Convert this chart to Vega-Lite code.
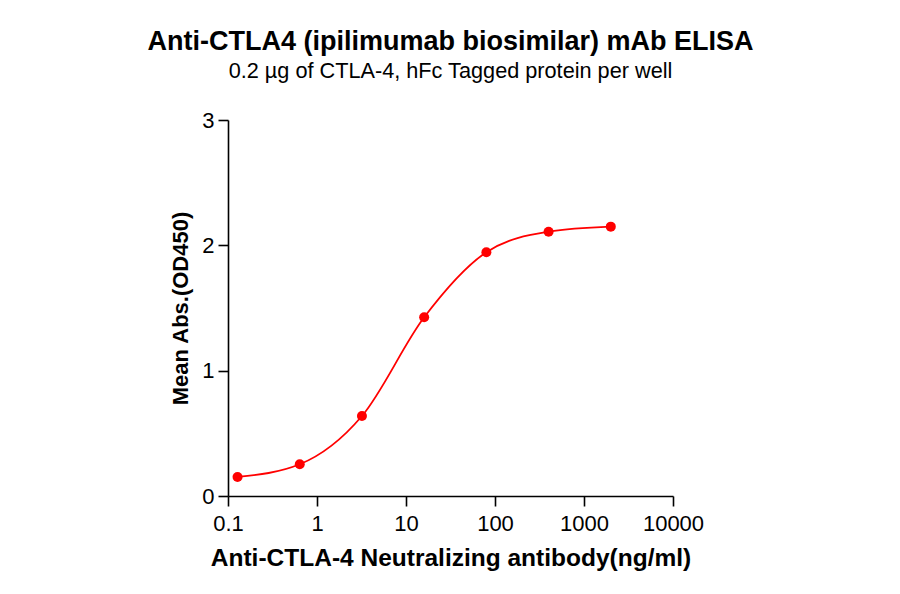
{
  "$schema": "https://vega.github.io/schema/vega-lite/v6.json",
  "autosize": "none",
  "width": 445,
  "height": 376,
  "padding": {"left": 228, "top": 120, "right": 227, "bottom": 98},
  "background": "white",
  "config": {
    "view": {"stroke": null},
    "font": "Liberation Sans",
    "axis": {
      "domainColor": "black", "domainWidth": 1.6, "tickColor": "black", "tickWidth": 1.6,
      "tickSize": 10, "labelFontSize": 22, "labelColor": "black", "grid": false, "labelFlush": false,
      "titleFontWeight": "bold", "titleColor": "black"
    }
  },
  "title": {
    "text": "Anti-CTLA4 (ipilimumab biosimilar) mAb ELISA",
    "subtitle": "0.2 µg of CTLA-4, hFc Tagged protein per well",
    "fontSize": 27, "fontWeight": "bold", "color": "black",
    "subtitleFontSize": 21.7, "subtitleColor": "black", "subtitlePadding": 5,
    "anchor": "middle", "offset": 25
  },
  "data": {"values": [
    {"conc": 0.128, "od": 0.152},
    {"conc": 0.64, "od": 0.253},
    {"conc": 3.2, "od": 0.638},
    {"conc": 16, "od": 1.426},
    {"conc": 80, "od": 1.945},
    {"conc": 400, "od": 2.109},
    {"conc": 2000, "od": 2.149}
  ]},
  "encoding": {
    "x": {"field": "conc", "type": "quantitative",
      "scale": {"type": "log", "domain": [0.1, 10000]},
      "axis": {"values": [0.1, 1, 10, 100, 1000, 10000], "format": "~g", "labelPadding": 7,
        "title": "Anti-CTLA-4 Neutralizing antibody(ng/ml)", "titleFontSize": 24.5, "titlePadding": 12}},
    "y": {"field": "od", "type": "quantitative",
      "scale": {"domain": [0, 3]},
      "axis": {"values": [0, 1, 2, 3], "labelPadding": 4, "title": "Mean Abs.(OD450)",
        "titleFontSize": 22, "titlePadding": 9}}
  },
  "layer": [
    {"mark": {"type": "line", "color": "#ff0000", "strokeWidth": 1.8, "interpolate": "monotone"}},
    {"mark": {"type": "point", "filled": true, "color": "#ff0000", "opacity": 1, "size": 100}}
  ]
}
